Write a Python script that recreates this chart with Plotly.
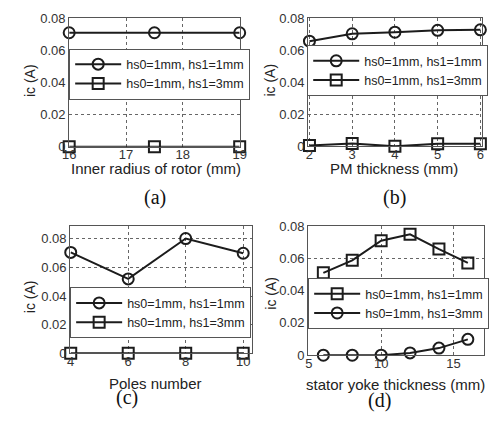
import plotly.graph_objects as go

# ---------------- data ----------------
label_1mm = "hs0=1mm, hs1=1mm"
label_3mm = "hs0=1mm, hs1=3mm"

# (a) inner radius of rotor
a_x = [16, 17.5, 19]
a_hs1_1mm = [0.071, 0.071, 0.071]
a_hs1_3mm = [0.0, 0.0, 0.0]
a_ticks = [16, 17, 18, 19]

# (b) PM thickness
b_x = [2, 3, 4, 5, 6]
b_hs1_1mm = [0.0656, 0.0702, 0.0712, 0.0724, 0.0727]
b_hs1_3mm = [0.0006, 0.0018, 0.0, 0.0016, 0.0016]
b_ticks = [2, 3, 4, 5, 6]

# (c) poles number
c_x = [4, 6, 8, 10]
c_hs1_1mm = [0.0705, 0.052, 0.0802, 0.0699]
c_hs1_3mm = [0.0, 0.0, 0.0, 0.0]
c_ticks = [4, 6, 8, 10]

# (d) stator yoke thickness
d_x = [6, 8, 10, 12, 14, 16]
d_hs1_1mm = [0.051, 0.0587, 0.0709, 0.0748, 0.0657, 0.0571]
d_hs1_3mm = [0.0, 0.0, 0.0, 0.0014, 0.0044, 0.0098]
d_ticks = [5, 10, 15]

y_ticks = [0, 0.02, 0.04, 0.06, 0.08]
y_ticktext = ["0", "0.02", "0.04", "0.06", "0.08"]

x_titles = ["Inner radius of rotor (mm)", "PM thickness (mm)", "Poles number",
            "stator yoke thickness (mm)"]
y_title = "ic (A)"
captions = ["(a)", "(b)", "(c)", "(d)"]

# ---------------- layout geometry ----------------
W, H = 492, 423
def px(x):
    return x / W
def py(y):
    return 1 - y / H

LINE = "#1c1c1c"
FRAME = "#555555"
GRID = "#666666"
TXT = "#333333"
FONT = "Liberation Sans, Arial, sans-serif"

fig = go.Figure()

panels = [
    dict(x=a_x, y1=a_hs1_1mm, y2=a_hs1_3mm, s1="circle-open", s2="square-open",
         xr=[16, 19], yr=[0, 0.08], xt=a_ticks, dx=(64, 239.5), dy=(11.7, 145),
         leg=(64, 69.5), title_xy=(153, 167), cap_xy=(152, 198), ytitle_xy=(24.5, 76)),
    dict(x=b_x, y1=b_hs1_1mm, y2=b_hs1_3mm, s1="circle-open", s2="square-open",
         xr=[1.97, 6.04], yr=[0, 0.08], xt=b_ticks, dx=(310, 489), dy=(11.5, 144.5),
         leg=(309, 66), title_xy=(398, 167), cap_xy=(399, 198), ytitle_xy=(271, 76)),
    dict(x=c_x, y1=c_hs1_1mm, y2=c_hs1_3mm, s1="circle-open", s2="square-open",
         xr=[3.98, 10.3], yr=[0, 0.089], xt=c_ticks, dx=(65, 252), dy=(227, 359),
         leg=(65, 317), title_xy=(153, 390), cap_xy=(123, 405), ytitle_xy=(24.5, 300)),
    dict(x=d_x, y1=d_hs1_1mm, y2=d_hs1_3mm, s1="square-open", s2="circle-open",
         xr=[4.95, 17.1], yr=[0, 0.08], xt=d_ticks, dx=(310, 490.7), dy=(227, 361),
         leg=(310, 307.5), title_xy=(400, 391), cap_xy=(383, 408), ytitle_xy=(272, 297)),
]

annotations = []
for i, p in enumerate(panels):
    n = "" if i == 0 else str(i + 1)
    legname = "legend" + n
    for yv, sym, lab in [(p["y1"], p["s1"], label_1mm), (p["y2"], p["s2"], label_3mm)]:
        fig.add_trace(go.Scatter(
            x=p["x"], y=yv, mode="lines+markers", name=lab,
            xaxis="x" + n, yaxis="y" + n, legend=legname,
            line=dict(color=LINE, width=2),
            marker=dict(symbol=sym, size=11, color=LINE, line=dict(width=2, color=LINE)),
            cliponaxis=False,
        ))
    axis_common = dict(showline=True, mirror=True, linecolor=FRAME, linewidth=1,
                       showgrid=True, gridcolor=GRID, griddash="dot", gridwidth=1,
                       zeroline=False, ticks="", tickfont=dict(family=FONT, size=13, color=TXT))
    fig.update_layout({
        "xaxis" + n: dict(domain=[px(p["dx"][0]), px(p["dx"][1])], range=p["xr"],
                          tickvals=p["xt"], anchor="y" + n, ticklabelstandoff=-4,
                          **axis_common),
        "yaxis" + n: dict(domain=[py(p["dy"][1]), py(p["dy"][0])], range=p["yr"],
                          tickvals=y_ticks, ticktext=y_ticktext, anchor="x" + n, **axis_common),
        legname: dict(x=px(p["leg"][0]), y=py(p["leg"][1]), xanchor="left", yanchor="middle",
                      xref="paper", yref="paper",
                      bgcolor="white", bordercolor=FRAME, borderwidth=1,
                      font=dict(family=FONT, size=12.5, color="#222222"),
                      itemwidth=46, tracegroupgap=0, itemsizing="trace"),
    })
    annotations.append(dict(text=x_titles[i], x=px(p["title_xy"][0]), y=py(p["title_xy"][1]),
                            xref="paper", yref="paper", showarrow=False,
                            xanchor="center", yanchor="middle",
                            font=dict(family=FONT, size=15, color="#222222")))
    annotations.append(dict(text=y_title, x=px(p["ytitle_xy"][0]), y=py(p["ytitle_xy"][1]),
                            xref="paper", yref="paper", showarrow=False, textangle=-90,
                            xanchor="center", yanchor="middle",
                            font=dict(family=FONT, size=14, color="#222222")))
    annotations.append(dict(text=captions[i], x=px(p["cap_xy"][0]), y=py(p["cap_xy"][1]),
                            xref="paper", yref="paper", showarrow=False,
                            xanchor="center", yanchor="middle",
                            font=dict(family="Liberation Serif, Times New Roman, serif",
                                      size=20, color="#111111")))

fig.update_layout(
    width=W, height=H, margin=dict(l=0, r=0, t=0, b=0),
    paper_bgcolor="white", plot_bgcolor="white",
    showlegend=True, annotations=annotations,
)

fig.write_html("out.html", config={"displayModeBar": False},
               post_script="document.body.style.margin='0';document.body.style.padding='0';")
